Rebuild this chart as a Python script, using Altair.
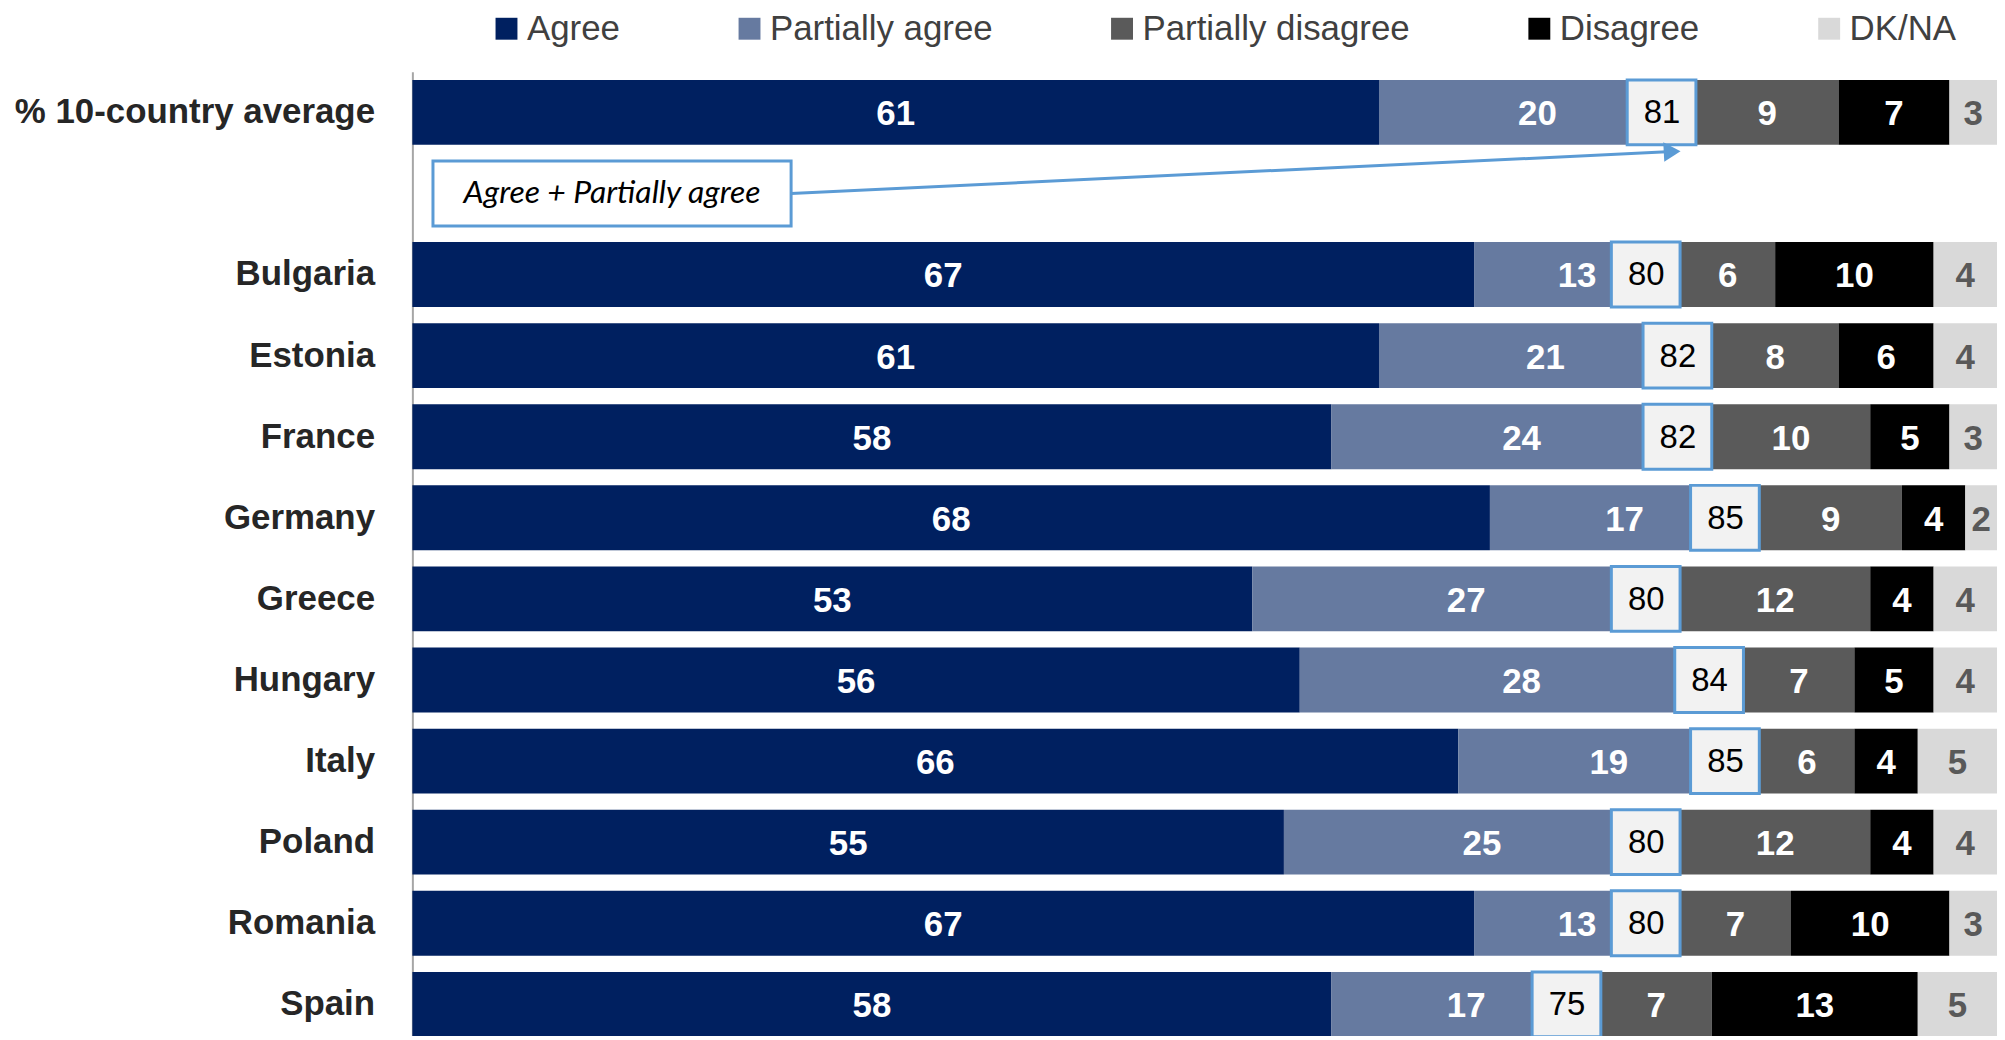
import altair as alt
import pandas as pd

# ---------------- data ----------------
countries = ["% 10-country average", "Bulgaria", "Estonia", "France", "Germany",
             "Greece", "Hungary", "Italy", "Poland", "Romania", "Spain"]
blank_row = " "
agree = [61, 67, 61, 58, 68, 53, 56, 66, 55, 67, 58]
partially_agree = [20, 13, 21, 24, 17, 27, 28, 19, 25, 13, 17]
partially_disagree = [9, 6, 8, 10, 9, 12, 7, 6, 12, 7, 7]
disagree = [7, 10, 6, 5, 4, 4, 5, 4, 4, 10, 13]
dk_na = [3, 4, 4, 3, 2, 4, 4, 5, 4, 3, 5]
categories = ["Agree", "Partially agree", "Partially disagree", "Disagree", "DK/NA"]

annotation_text = "Agree + Partially agree"
annotation_box_x = [1.3, 23.9]   # in % units
arrow_x = [23.9, 79.5]           # in % units

# ---------------- styles ----------------
colors = ["#002060", "#667AA0", "#5A5A5A", "#000000", "#D9D9D9"]
FONT = "Liberation Sans, Arial, sans-serif"
BLUE = "#5B9BD5"

series = [agree, partially_agree, partially_disagree, disagree, dk_na]
rows = []
for i, c in enumerate(countries):
    s = 0
    for k, cat in enumerate(categories):
        v = series[k][i]
        rows.append(dict(country=c, cat=cat, order=k, value=v, start=s, end=s + v, mid=s + v / 2))
        s += v
seg = pd.DataFrame(rows)
tot = pd.DataFrame(dict(country=countries,
                        total=[a + p for a, p in zip(agree, partially_agree)]))
annot = pd.DataFrame(dict(country=[blank_row], x1=[annotation_box_x[0]], x2=[annotation_box_x[1]],
                          xm=[(annotation_box_x[0] + annotation_box_x[1]) / 2],
                          a1=[arrow_x[0]], a2=[arrow_x[1]], text=[annotation_text]))

y_order = [countries[0], blank_row] + countries[1:]

yenc = alt.Y("country:N", sort=y_order,
             scale=alt.Scale(domain=y_order, range=[62, 1039], paddingInner=0.2, paddingOuter=0.1),
             axis=alt.Axis(title=None, ticks=False, labelPadding=38, labelFontSize=35,
                           labelFont=FONT, labelFontWeight="bold", labelColor="#262626",
                           domainColor="#A6A6A6", domainWidth=2, labelLimit=1000))
xscale = alt.Scale(domain=[0, 100], nice=False, zero=True)

bars = alt.Chart(seg).mark_bar().encode(
    y=yenc,
    x=alt.X("start:Q", scale=xscale, axis=None),
    x2="end:Q",
    color=alt.Color("cat:N", scale=alt.Scale(domain=categories, range=colors),
                    legend=alt.Legend(title=None, orient="none", legendX=77, legendY=1,
                                      direction="horizontal", symbolType="square",
                                      symbolSize=484, symbolStrokeWidth=0, labelFontSize=35,
                                      labelFont=FONT, labelColor="#404040", columnPadding=112,
                                      labelOffset=3, padding=0, labelLimit=1000)),
)

txt_white = alt.Chart(seg).transform_filter(alt.datum.cat != "DK/NA").mark_text(
    font=FONT, fontWeight="bold", fontSize=35, color="white", baseline="middle", dy=2
).encode(y="country:N", x="mid:Q", text="value:Q")

txt_gray = alt.Chart(seg).transform_filter(alt.datum.cat == "DK/NA").mark_text(
    font=FONT, fontWeight="bold", fontSize=35, color="#595959", baseline="middle", dy=2
).encode(y="country:N", x="mid:Q", text="value:Q")

boxes = alt.Chart(tot).mark_rect(xOffset=-69, fill="#F2F2F2", stroke=BLUE, strokeWidth=3).encode(
    y="country:N", x="total:Q", x2="total:Q")

box_txt = alt.Chart(tot).mark_text(
    font=FONT, fontSize=33, color="black", dx=-34, dy=1,
    baseline="middle").encode(y="country:N", x="total:Q", text="total:Q")

ann_box = alt.Chart(annot).mark_rect(fill="white", stroke=BLUE, strokeWidth=3).encode(
    y="country:N", x="x1:Q", x2="x2:Q")
ann_txt = alt.Chart(annot).mark_text(
    font="Lato, Open Sans, sans-serif", fontStyle="italic", fontSize=32, color="black",
    baseline="middle").encode(y="country:N", x="xm:Q", text="text:N")
arrow = alt.Chart(annot).mark_rule(color=BLUE, strokeWidth=3, y2Offset=-42).encode(
    y="country:N", y2="country:N", x="a1:Q", x2="a2:Q")
head = alt.Chart(annot).mark_point(shape="triangle-right", filled=True, size=380, color=BLUE,
                                   opacity=1, yOffset=-42, angle=357).encode(
    y="country:N", x="a2:Q")

chart = alt.layer(bars, txt_white, txt_gray, boxes, box_txt, ann_box, ann_txt, arrow, head).properties(
    width=1591, height=1028,
    autosize=alt.AutoSizeParams(type="none"),
    padding={"left": 406, "top": 0, "right": 0, "bottom": 0},
    background="white",
).configure_view(stroke=None)

chart.save("out.html", embed_options={"renderer": "svg", "actions": False})
